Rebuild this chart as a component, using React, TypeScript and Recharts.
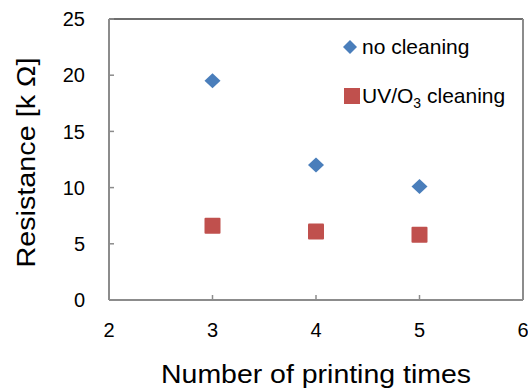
import { ScatterChart, Scatter, XAxis, YAxis, ReferenceLine, Legend } from "recharts";

const seriesNames = ["no cleaning", "UV/O3 cleaning"];
const printTimes = [3, 4, 5];
const noCleaning = [19.5, 12.0, 10.1];
const uvCleaning = [6.6, 6.1, 5.8];
const xTicks = [2, 3, 4, 5, 6];
const yTicks = [0, 5, 10, 15, 20, 25];

const noCleaningData = printTimes.map((x, i) => ({ x, y: noCleaning[i] }));
const uvCleaningData = printTimes.map((x, i) => ({ x, y: uvCleaning[i] }));

const FONT = '"Liberation Sans", Arial, sans-serif';
const AXIS = "#8c8c8c";
const BLUE = "#4a7ebb";
const RED = "#c0504d";

function Diamond(props: any) {
  const { cx, cy, fill } = props;
  return (
    <polygon
      points={`${cx},${cy - 7.5} ${cx + 8},${cy} ${cx},${cy + 7.5} ${cx - 8},${cy}`}
      fill={fill}
    />
  );
}

function Square(props: any) {
  const { cx, cy, fill } = props;
  return <rect x={cx - 8} y={cy - 8} width={16} height={16} rx={1} fill={fill} />;
}

function XLabel(props: any) {
  const { x, y, width } = props.viewBox;
  return (
    <text
      x={x + width / 2}
      y={y + 83}
      textAnchor="middle"
      fontFamily={FONT}
      fontSize={25}
      textLength={310}
      lengthAdjust="spacingAndGlyphs"
      fill="#000"
    >
      Number of printing times
    </text>
  );
}

function YLabel(props: any) {
  const { x, y, height } = props.viewBox;
  const cx = x + 35;
  const cy = y + height / 2 + 3;
  return (
    <text
      x={cx}
      y={cy}
      transform={`rotate(-90, ${cx}, ${cy})`}
      textAnchor="middle"
      fontFamily={FONT}
      fontSize={25}
      textLength={210}
      lengthAdjust="spacingAndGlyphs"
      fill="#000"
    >
      Resistance [k Ω]
    </text>
  );
}

function formatName(name: string) {
  if (name.startsWith("UV/O3")) {
    return (
      <span>
        UV/O
        <span style={{ fontSize: 14, position: "relative", top: 5 }}>3</span>
        {name.slice(5)}
      </span>
    );
  }
  return <span>{name}</span>;
}

function renderLegend(props: any) {
  const entries = [...(props.payload || [])].sort(
    (a: any, b: any) => seriesNames.indexOf(a.value) - seriesNames.indexOf(b.value)
  );
  return (
    <div style={{ fontFamily: FONT, fontSize: 21, color: "#000" }}>
      {entries.map((entry: any, i: number) => (
        <div
          key={entry.value}
          style={{ display: "flex", alignItems: "center", height: 28, marginBottom: i === 0 ? 21 : 0 }}
        >
          <svg width={22} height={18} style={{ display: "block" }}>
            {entry.value === seriesNames[0] ? (
              <polygon points="10,2 17,9 10,16 3,9" fill={entry.color} />
            ) : (
              <rect x={4} y={1} width={16} height={16} fill={entry.color} />
            )}
          </svg>
          {formatName(entry.value)}
        </div>
      ))}
    </div>
  );
}

export default function App() {
  return (
    <div style={{ position: "absolute", left: 0, top: 0, background: "#fff" }}>
      <ScatterChart width={528} height={392} margin={{ top: 19, right: 5, left: 0, bottom: 0 }}>
        <XAxis
          type="number"
          dataKey="x"
          domain={[2, 6]}
          ticks={xTicks}
          interval={0}
          height={92}
          tickSize={-5}
          tickMargin={28}
          axisLine={{ stroke: AXIS, strokeWidth: 2 }}
          tickLine={{ stroke: AXIS, strokeWidth: 1.5 }}
          tick={{ fill: "#000", fontSize: 20, fontFamily: FONT }}
          label={<XLabel />}
        />
        <YAxis
          type="number"
          dataKey="y"
          domain={[0, 25]}
          ticks={yTicks}
          interval={0}
          width={109}
          tickSize={-5}
          tickMargin={29}
          axisLine={{ stroke: AXIS, strokeWidth: 2 }}
          tickLine={{ stroke: AXIS, strokeWidth: 1.5 }}
          tick={{ fill: "#000", fontSize: 20, fontFamily: FONT }}
          label={<YLabel />}
        />
        <ReferenceLine y={25} stroke="#6e6e6e" strokeWidth={2} />
        <ReferenceLine x={6} stroke={AXIS} strokeWidth={2} />
        <Legend
          layout="horizontal"
          verticalAlign="middle"
          align="center"
          wrapperStyle={{ top: 33, left: 340, width: 188, height: 80 }}
          content={renderLegend}
        />
        <Scatter
          name={seriesNames[0]}
          data={noCleaningData}
          fill={BLUE}
          shape={Diamond}
          isAnimationActive={false}
        />
        <Scatter
          name={seriesNames[1]}
          data={uvCleaningData}
          fill={RED}
          shape={Square}
          isAnimationActive={false}
        />
      </ScatterChart>
    </div>
  );
}
